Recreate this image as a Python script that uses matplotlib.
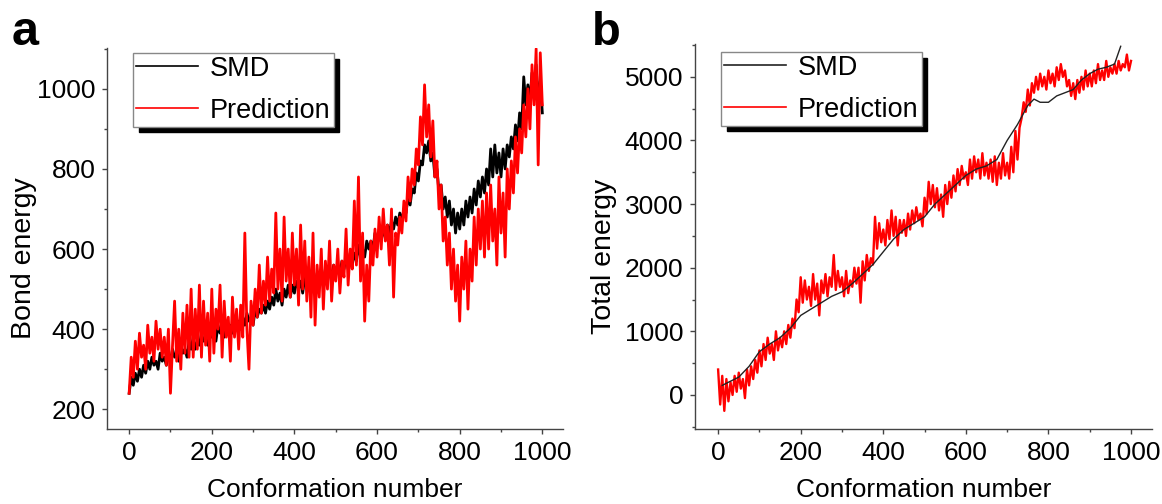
import matplotlib
matplotlib.use('Agg')
import matplotlib.pyplot as plt
from matplotlib.ticker import MultipleLocator

plt.rcParams['font.family'] = ['Liberation Sans', 'DejaVu Sans']

# conformation numbers for the noisy traces (every 5th conformation)
conf = list(range(0, 1001, 5))

# panel a: bond energy
bond_smd = [
    240, 280, 260, 290, 270, 300, 280, 310, 290, 320,
    300, 330, 310, 320, 300, 340, 320, 330, 310, 340,
    320, 350, 330, 340, 320, 360, 340, 350, 330, 370,
    350, 380, 350, 370, 360, 390, 370, 380, 360, 400,
    380, 390, 370, 410, 390, 400, 380, 420, 400, 410,
    390, 430, 400, 420, 400, 430, 410, 440, 420, 430,
    410, 450, 430, 450, 440, 460, 440, 470, 450, 480,
    460, 500, 470, 490, 460, 500, 480, 510, 480, 510,
    490, 520, 500, 520, 490, 530, 500, 520, 490, 530,
    510, 540, 510, 530, 520, 550, 520, 550, 530, 560,
    540, 560, 540, 570, 550, 580, 550, 590, 560, 590,
    570, 610, 580, 600, 580, 620, 600, 620, 600, 640,
    610, 640, 620, 650, 630, 660, 640, 670, 650, 680,
    660, 690, 670, 700, 690, 730, 710, 750, 740, 790,
    770, 820, 810, 860, 840, 870, 820, 840, 780, 800,
    740, 760, 700, 730, 680, 720, 660, 700, 640, 690,
    650, 700, 660, 720, 680, 730, 690, 750, 710, 770,
    730, 780, 740, 800, 760, 850, 780, 860, 790, 840,
    780, 850, 800, 860, 830, 880, 850, 910, 870, 940,
    900, 1030, 960, 1010, 970, 1040, 990, 1060, 970, 1020,
    940,
]
bond_pred = [
    240, 330, 280, 370, 300, 390, 330, 360, 300, 410,
    340, 380, 320, 420, 350, 400, 330, 380, 310, 400,
    240, 360, 470, 320, 400, 300, 440, 340, 460, 330,
    500, 330, 450, 350, 510, 330, 470, 360, 440, 320,
    500, 340, 450, 400, 510, 330, 470, 380, 430, 320,
    480, 380, 450, 350, 460, 380, 640, 400, 300, 470,
    410, 500, 430, 560, 440, 520, 460, 580, 470, 550,
    490, 690, 500, 600, 470, 680, 520, 600, 480, 640,
    510, 600, 460, 660, 500, 620, 470, 580, 430, 640,
    410, 560, 480, 600, 450, 570, 500, 620, 470, 560,
    520, 600, 490, 570, 530, 650, 510, 600, 550, 720,
    560, 780, 520, 640, 420, 560, 470, 620, 560, 650,
    580, 680, 600, 700, 620, 660, 560, 700, 480, 640,
    610, 680, 640, 720, 670, 780, 720, 800, 760, 850,
    810, 930, 860, 1010, 880, 960, 830, 920, 780, 820,
    700, 760, 620, 680, 560, 640, 500, 600, 470, 560,
    420, 580, 500, 620, 450, 600, 520, 680, 560, 700,
    600, 720, 580, 740, 600, 760, 620, 700, 560, 780,
    640, 740, 580, 800, 700, 820, 740, 880, 790, 900,
    840, 960, 880, 1000, 900, 1060, 960, 1100, 810, 1090,
    960,
]

# panel b: total energy
total_smd_x = [10, 25, 50, 75, 100, 125, 150, 175, 200, 225,
               250, 275, 300, 325, 350, 375, 400, 425, 450, 475,
               500, 525, 550, 575, 600, 625, 650, 675, 700, 725,
               750, 765, 780, 800, 820, 840, 860, 880, 900, 920,
               940, 960, 975]
total_smd = [150, 200, 280, 450, 680, 800, 900, 1050, 1250, 1350,
             1450, 1550, 1620, 1750, 1900, 2050, 2250, 2450, 2600, 2700,
             2800, 3000, 3150, 3300, 3450, 3550, 3600, 3700, 4000, 4250,
             4550, 4650, 4600, 4600, 4700, 4750, 4800, 4950, 5050, 5120,
             5150, 5200, 5480]
total_pred = [
    400, -150, 300, -250, 250, -100, 200, 0, 300, 50,
    350, 100, 250, -50, 400, 150, 450, 250, 550, 350,
    700, 450, 800, 550, 900, 650, 800, 550, 1000, 700,
    900, 750, 1000, 800, 1100, 900, 1200, 1050, 1500, 1300,
    1850, 1450, 1800, 1500, 1700, 1400, 1900, 1500, 1750, 1250,
    1800, 1600, 1900, 1550, 1850, 1700, 2200, 1650, 1950, 1700,
    1850, 1550, 1950, 1600, 1800, 1700, 2000, 1750, 2000, 1450,
    2100, 1800, 2200, 1950, 2150, 2050, 2800, 2300, 2700, 2400,
    2600, 2350, 2750, 2450, 2900, 2500, 2800, 2350, 2750, 2550,
    2750, 2500, 2850, 2600, 2900, 2700, 2950, 2750, 2850, 2650,
    3100, 2850, 3350, 3000, 3300, 2950, 3250, 2900, 3150, 2800,
    3300, 3000, 3350, 3100, 3450, 3200, 3550, 3300, 3600, 3400,
    3500, 3300, 3700, 3400, 3750, 3500, 3700, 3400, 3800, 3450,
    3650, 3400, 3700, 3350, 3750, 3300, 3650, 3400, 3800, 3450,
    3650, 3400, 3900, 3500, 4150, 3700, 4200, 4350, 4600, 4450,
    4800, 4550, 4900, 4750, 5000, 4800, 5050, 4850, 5000, 4800,
    5100, 4900, 5050, 4850, 5150, 4950, 5200, 5000, 5100, 4850,
    4950, 4700, 4900, 4650, 4950, 4750, 5000, 4800, 5100, 4850,
    5050, 4850, 5100, 4900, 5200, 4950, 5100, 4950, 5250, 5000,
    5150, 5050, 5200, 5050, 5250, 5100, 5200, 5150, 5350, 5100,
    5250,
]

FS = 19
spine_col = '#444444'

fig = plt.figure(figsize=(11.62, 5.04), dpi=100)
ax1 = fig.add_axes([0.0923, 0.1482, 0.3922, 0.7566])
ax2 = fig.add_axes([0.5981, 0.1482, 0.3930, 0.7645])


def style(ax, ymajor, yminor):
    for s in ['top', 'right']:
        ax.spines[s].set_visible(False)
    for s in ['left', 'bottom']:
        ax.spines[s].set_color(spine_col)
        ax.spines[s].set_linewidth(1.0)
    ax.xaxis.set_major_locator(MultipleLocator(200))
    ax.xaxis.set_minor_locator(MultipleLocator(100))
    ax.yaxis.set_major_locator(MultipleLocator(ymajor))
    ax.yaxis.set_minor_locator(MultipleLocator(yminor))
    ax.tick_params(which='major', direction='out', length=3.5, width=1.0,
                   color=spine_col, labelsize=FS, pad=5)
    ax.tick_params(which='minor', direction='out', length=2.5, width=1.0,
                   color=spine_col)
    ax.set_xlabel('Conformation number', fontsize=FS, labelpad=9)


# panel a
ax1.plot(conf, bond_smd, color='black', lw=2.0, label='SMD')
ax1.plot(conf, bond_pred, color='#ff0000', lw=2.0, label='Prediction')
ax1.set_xlim(-53, 1050)
ax1.set_ylim(150, 1102)
style(ax1, 200, 100)
ax1.set_ylabel('Bond energy', fontsize=20.5)
ax1.yaxis.set_label_coords(-0.154, 0.45)

# panel b
ax2.plot(conf, total_pred, color='#ff0000', lw=1.7, label='Prediction', zorder=2)
ax2.plot(total_smd_x, total_smd, color='#222222', lw=1.0, label='SMD', zorder=3)
ax2.set_xlim(-56, 1050)
ax2.set_ylim(-540, 5516)
style(ax2, 1000, 500)
ax2.set_ylabel('Total energy', fontsize=20.5)
ax2.yaxis.set_label_coords(-0.17, 0.45)

for ax, anchor in [(ax1, (0.1145, 0.8948)), (ax2, (0.6205, 0.8968))]:
    h, l = ax.get_legend_handles_labels()
    order = [l.index('SMD'), l.index('Prediction')]
    leg = ax.legend([h[i] for i in order], [l[i] for i in order],
                    loc='upper left', bbox_to_anchor=anchor,
                    bbox_transform=fig.transFigure, fontsize=FS + 0.5,
                    frameon=True, fancybox=False, framealpha=1,
                    edgecolor='#888888', borderpad=0.1, labelspacing=0.6,
                    handlelength=2.3, handletextpad=0.45, borderaxespad=0,
                    shadow={'color': 'black', 'alpha': 1, 'ox': 4, 'oy': -4})
    leg.get_frame().set_linewidth(1.0)
    for line in leg.get_lines():
        line.set_linewidth(1.2)

fig.text(0.010, 0.91, 'a', fontsize=35, fontweight='bold', va='baseline')
fig.text(0.509, 0.91, 'b', fontsize=34, fontweight='bold', va='baseline')

fig.savefig('out.png', dpi=100)
